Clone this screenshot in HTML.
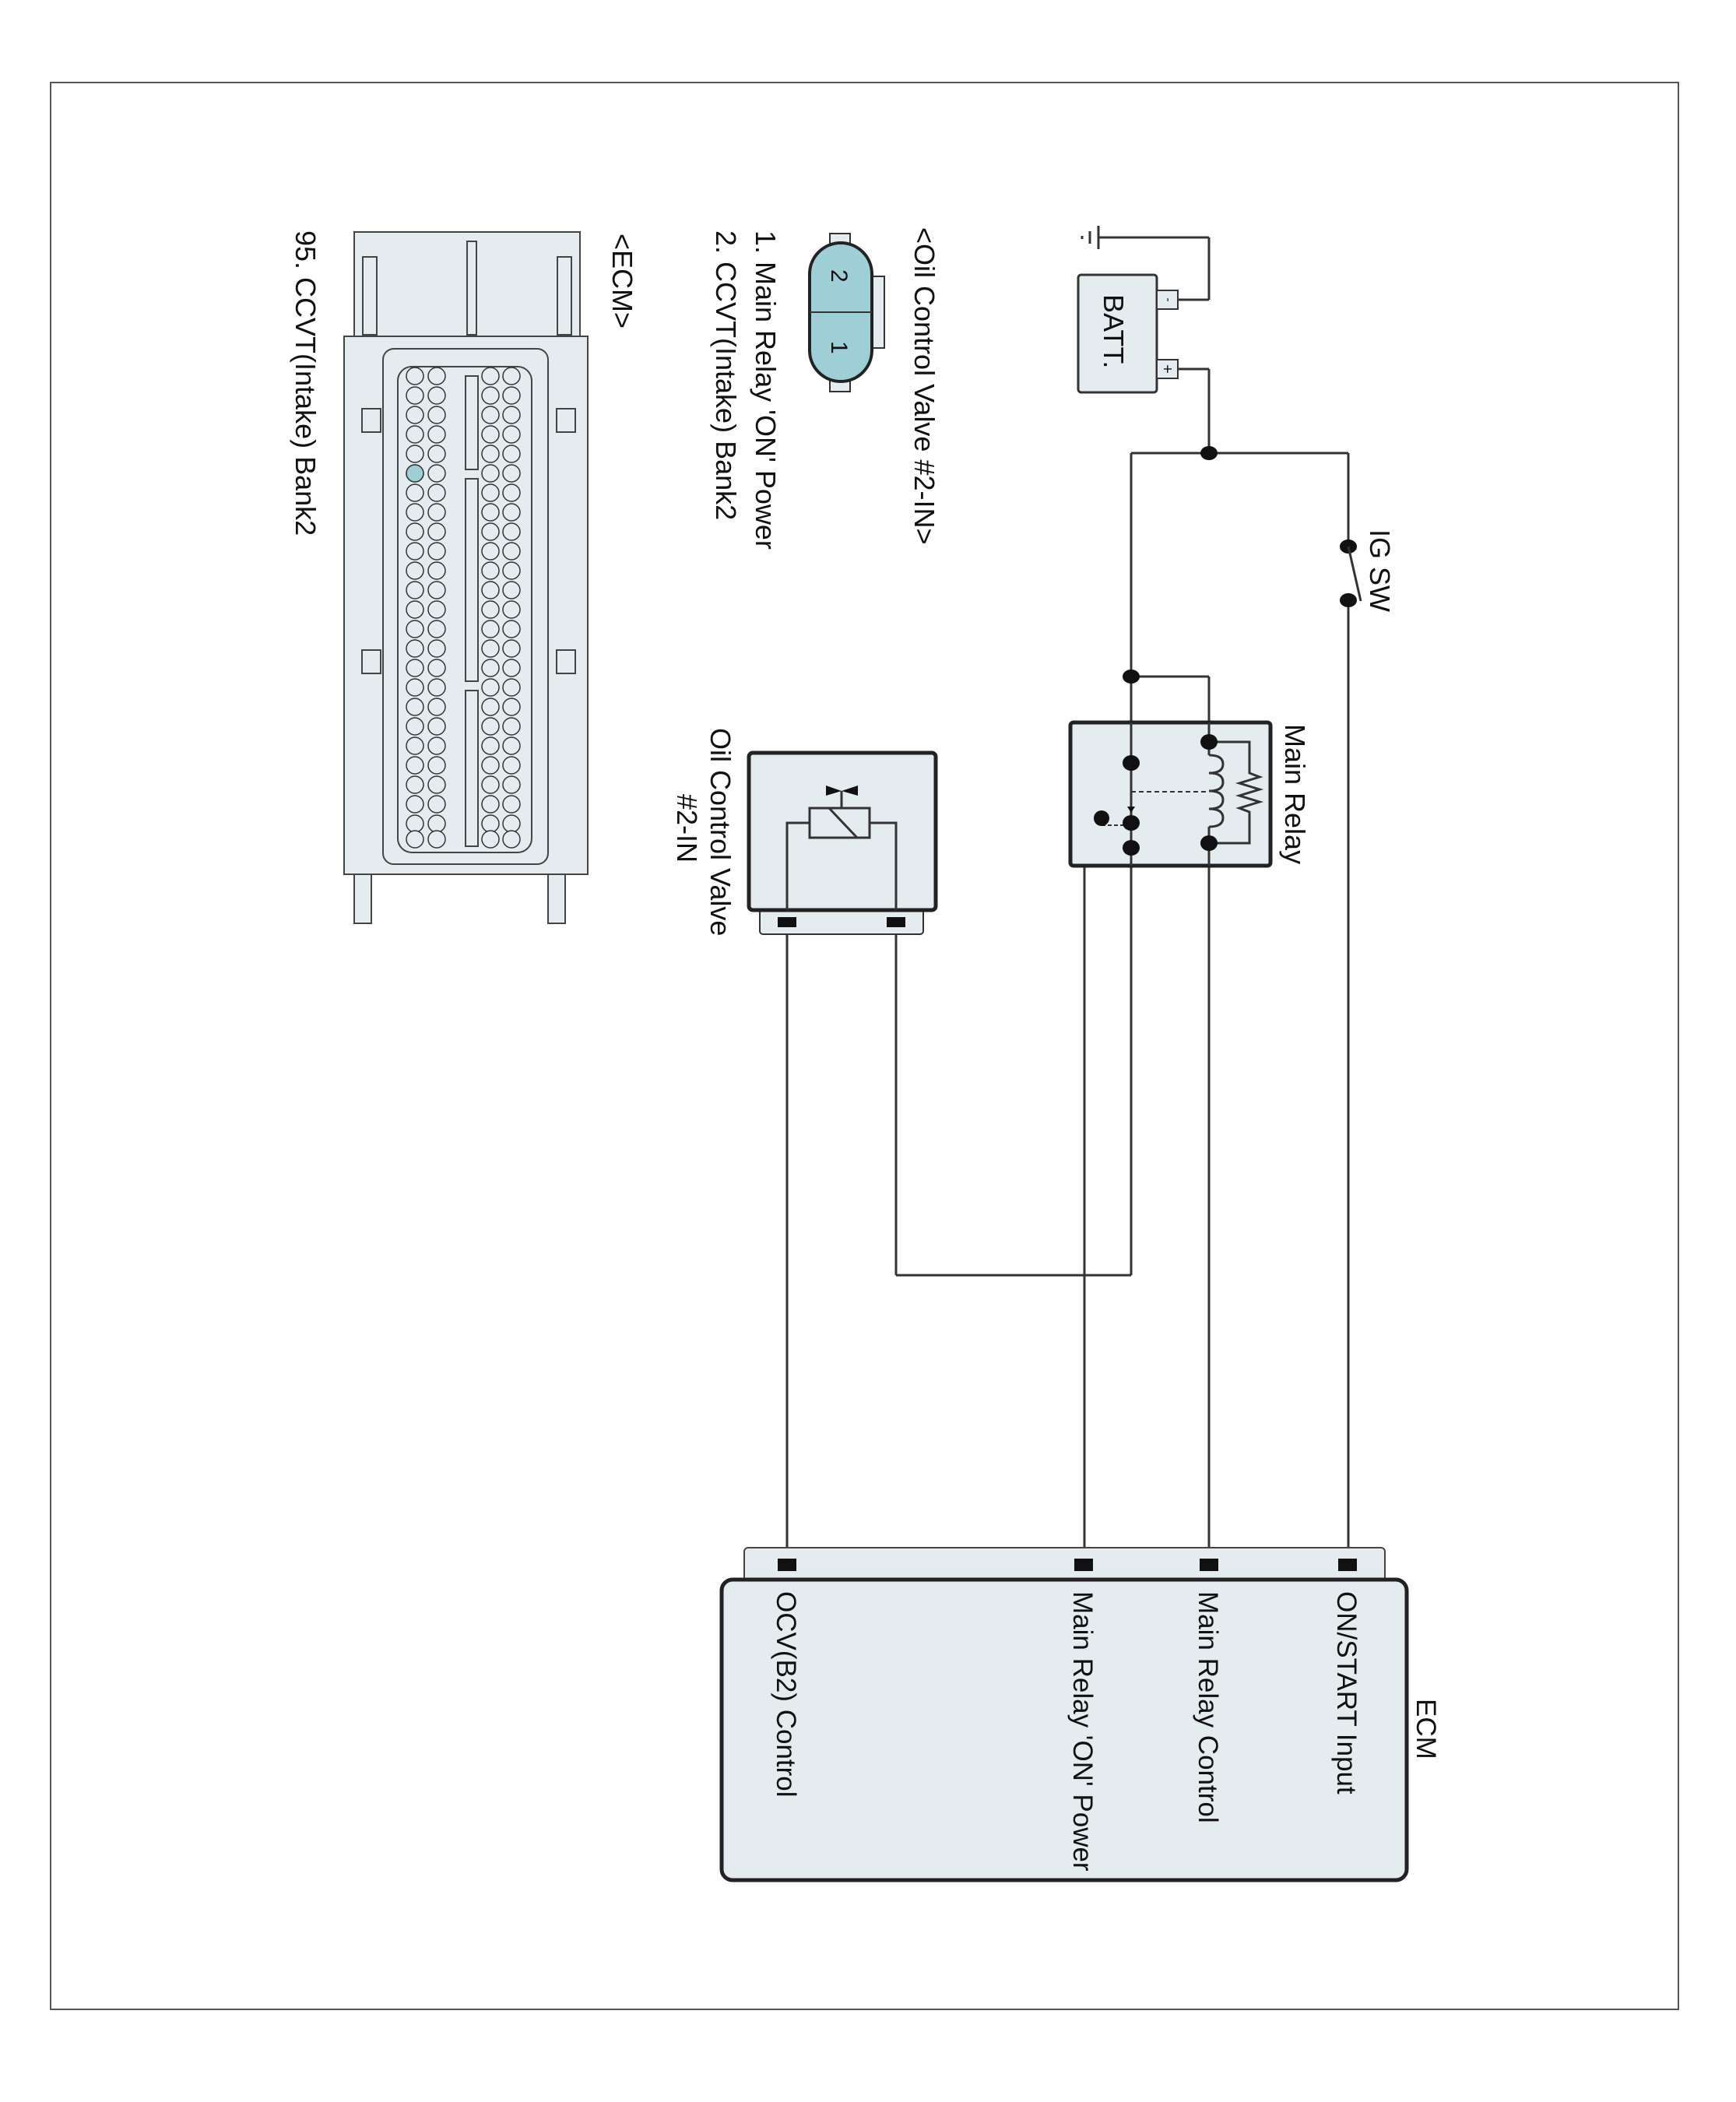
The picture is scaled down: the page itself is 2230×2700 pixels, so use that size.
<!DOCTYPE html>
<html><head><meta charset="utf-8"><style>
html,body{margin:0;padding:0;background:#fff}
svg{display:block}
text{font-family:"Liberation Sans",Arial,sans-serif;fill:#111}
</style></head><body>
<svg width="2230" height="2700" viewBox="0 0 2230 2700" xmlns="http://www.w3.org/2000/svg">
<defs>
<circle id="p" r="11" fill="#e4ecef" stroke="#333" stroke-width="1.5"/>
</defs>
<rect x="65" y="106" width="2091" height="2475" fill="#fff" stroke="#555" stroke-width="2"/>

<g stroke="#333" stroke-width="3" fill="none">
<line x1="1411" y1="305" x2="1553" y2="305"/>
<line x1="1553" y1="305" x2="1553" y2="385"/>
<line x1="1513" y1="385" x2="1553" y2="385"/>
<line x1="1513" y1="474" x2="1553" y2="474"/>
<line x1="1553" y1="474" x2="1553" y2="582"/>
<line x1="1453" y1="582" x2="1732" y2="582"/>
<line x1="1732" y1="582" x2="1732" y2="702"/>
<line x1="1732" y1="771" x2="1732" y2="1995"/>
<line x1="1453" y1="582" x2="1453" y2="1638"/>
<line x1="1453" y1="869" x2="1553" y2="869"/>
<line x1="1553" y1="869" x2="1553" y2="1995"/>
<line x1="1453" y1="1089" x2="1393" y2="1089"/>
<line x1="1393" y1="1089" x2="1393" y2="1995"/>
<line x1="1453" y1="1638" x2="1151" y2="1638"/>
<line x1="1151" y1="1638" x2="1151" y2="1190"/>
<line x1="1011" y1="1190" x2="1011" y2="1995"/>
</g>
<g stroke="#333" stroke-width="3">
<line x1="1411" y1="290" x2="1411" y2="320"/>
<line x1="1400" y1="297" x2="1400" y2="313"/>
<line x1="1390" y1="303" x2="1390" y2="307"/>
</g>
<rect x="1385" y="353" width="101" height="151" rx="4" fill="#e4ecef" stroke="#333" stroke-width="3"/>
<rect x="1486" y="373" width="27" height="24" fill="#e4ecef" stroke="#333" stroke-width="2"/>
<rect x="1486" y="462" width="27" height="24" fill="#e4ecef" stroke="#333" stroke-width="2"/>
<text x="1500" y="389" font-size="16" transform="rotate(90 1500 385)" text-anchor="middle">-</text>
<text x="1499" y="480" font-size="20" transform="rotate(90 1499 474)" text-anchor="middle">+</text>
<text transform="translate(1418,378) rotate(90)" font-size="36">BATT.</text>
<g fill="#111">
<ellipse cx="1553" cy="582" rx="11" ry="9"/>
<ellipse cx="1453" cy="869" rx="11" ry="9"/>
<ellipse cx="1732" cy="702" rx="11" ry="9"/>
<ellipse cx="1732" cy="771" rx="11" ry="9"/>
</g>
<line x1="1732" y1="702" x2="1748" y2="772" stroke="#333" stroke-width="3"/>
<text transform="translate(1760,680) rotate(90)" font-size="36">IG SW</text>

<rect x="1375" y="928" width="257" height="184" rx="4" fill="#e4ecef" stroke="#222" stroke-width="5"/>
<g stroke="#333" stroke-width="3" fill="none">
<line x1="1453" y1="928" x2="1453" y2="1112"/>
<line x1="1553" y1="928" x2="1553" y2="970"/>
<path d="M1553 970 q18 0 18 11.5 q0 11.5 -18 11.5 q18 0 18 11.5 q0 11.5 -18 11.5 q18 0 18 11.5 q0 11.5 -18 11.5 q18 0 18 11.5 q0 11.5 -18 11.5"/>
<line x1="1553" y1="1062" x2="1553" y2="1112"/>
<polyline points="1553,953 1605,953 1605,993 1618,998 1592,1006 1618,1014 1592,1022 1618,1030 1592,1038 1605,1043 1605,1083 1553,1083"/>
<line x1="1453" y1="1017" x2="1553" y2="1017" stroke-dasharray="6,4" stroke-width="2"/>
<line x1="1415" y1="1060" x2="1453" y2="1060" stroke-dasharray="5,3" stroke-width="2"/>
</g>
<g fill="#111">
<ellipse cx="1553" cy="953" rx="11" ry="10"/>
<ellipse cx="1553" cy="1083" rx="11" ry="10"/>
<ellipse cx="1453" cy="980" rx="11" ry="10"/>
<ellipse cx="1453" cy="1057" rx="11" ry="10"/>
<ellipse cx="1453" cy="1089" rx="11" ry="10"/>
<ellipse cx="1415" cy="1051" rx="10" ry="10"/>
<polygon points="1448,1036 1458,1036 1453,1044"/>
</g>
<text transform="translate(1651,930) rotate(90)" font-size="36">Main Relay</text>

<rect x="976" y="1160" width="210" height="40" rx="4" fill="#e4ecef" stroke="#333" stroke-width="2"/>
<rect x="962" y="967" width="240" height="202" rx="5" fill="#e4ecef" stroke="#222" stroke-width="5"/>
<rect x="999" y="1178" width="24" height="13" fill="#111"/>
<rect x="1139" y="1178" width="24" height="13" fill="#111"/>
<g stroke="#333" stroke-width="3" fill="none">
<polyline points="1011,1169 1011,1057 1040,1057"/>
<polyline points="1151,1169 1151,1057 1117,1057"/>
<rect x="1040" y="1038" width="77" height="38" fill="#e4ecef"/>
<line x1="1065" y1="1038" x2="1101" y2="1076"/>
<line x1="1081" y1="1038" x2="1081" y2="1016"/>
</g>
<polygon points="1061,1009 1081,1016 1102,1009 1102,1022 1081,1016 1061,1022" fill="#111"/>
<text transform="translate(913,935) rotate(90)" font-size="36">Oil Control Valve</text>
<text transform="translate(870,1020) rotate(90)" font-size="36">#2-IN</text>

<rect x="1066" y="300" width="26" height="203" fill="#e4ecef" stroke="#333" stroke-width="2"/>
<rect x="1112" y="355" width="24" height="92" fill="#e4ecef" stroke="#333" stroke-width="2"/>
<rect x="1040" y="312" width="80" height="178" rx="40" fill="#9fcfd6" stroke="#222" stroke-width="4"/>
<line x1="1040" y1="401" x2="1120" y2="401" stroke="#333" stroke-width="2"/>
<text transform="translate(1068,346) rotate(90)" font-size="30">2</text>
<text transform="translate(1068,438) rotate(90)" font-size="30">1</text>
<text transform="translate(1175,292) rotate(90)" font-size="36">&lt;Oil Control Valve #2-IN&gt;</text>
<text transform="translate(971,296) rotate(90)" font-size="36">1. Main Relay 'ON' Power</text>
<text transform="translate(920,296) rotate(90)" font-size="36">2. CCVT(Intake) Bank2</text>
<text transform="translate(787,300) rotate(90)" font-size="36">&lt;ECM&gt;</text>
<text transform="translate(380,296) rotate(90)" font-size="36">95. CCVT(Intake) Bank2</text>

<g stroke="#444" stroke-width="2" fill="#e4ecef">
<rect x="455" y="298" width="290" height="134"/>
<rect x="442" y="432" width="313" height="691"/>
<rect x="492" y="448" width="212" height="662" rx="14"/>
<rect x="511" y="471" width="172" height="624" rx="18"/>
<rect x="455" y="1123" width="22" height="63"/>
<rect x="704" y="1123" width="22" height="63"/>
<rect x="466" y="330" width="18" height="100"/>
<rect x="716" y="330" width="18" height="100"/>
<rect x="600" y="310" width="12" height="120"/>
<rect x="598" y="483" width="16" height="120"/>
<rect x="598" y="615" width="16" height="260"/>
<rect x="598" y="887" width="16" height="200"/>
<rect x="465" y="525" width="24" height="30"/>
<rect x="715" y="525" width="24" height="30"/>
<rect x="465" y="835" width="24" height="30"/>
<rect x="715" y="835" width="24" height="30"/>
</g>
<g>
<use href="#p" x="657" y="483"/><use href="#p" x="657" y="508"/><use href="#p" x="657" y="533"/><use href="#p" x="657" y="558"/><use href="#p" x="657" y="583"/><use href="#p" x="657" y="608"/><use href="#p" x="657" y="633"/><use href="#p" x="657" y="658"/><use href="#p" x="657" y="683"/><use href="#p" x="657" y="708"/><use href="#p" x="657" y="733"/><use href="#p" x="657" y="758"/><use href="#p" x="657" y="783"/><use href="#p" x="657" y="808"/><use href="#p" x="657" y="833"/><use href="#p" x="657" y="858"/><use href="#p" x="657" y="883"/><use href="#p" x="657" y="908"/><use href="#p" x="657" y="933"/><use href="#p" x="657" y="958"/><use href="#p" x="657" y="983"/><use href="#p" x="657" y="1008"/><use href="#p" x="657" y="1033"/><use href="#p" x="657" y="1058"/><use href="#p" x="657" y="1078"/>
<use href="#p" x="630" y="483"/><use href="#p" x="630" y="508"/><use href="#p" x="630" y="533"/><use href="#p" x="630" y="558"/><use href="#p" x="630" y="583"/><use href="#p" x="630" y="608"/><use href="#p" x="630" y="633"/><use href="#p" x="630" y="658"/><use href="#p" x="630" y="683"/><use href="#p" x="630" y="708"/><use href="#p" x="630" y="733"/><use href="#p" x="630" y="758"/><use href="#p" x="630" y="783"/><use href="#p" x="630" y="808"/><use href="#p" x="630" y="833"/><use href="#p" x="630" y="858"/><use href="#p" x="630" y="883"/><use href="#p" x="630" y="908"/><use href="#p" x="630" y="933"/><use href="#p" x="630" y="958"/><use href="#p" x="630" y="983"/><use href="#p" x="630" y="1008"/><use href="#p" x="630" y="1033"/><use href="#p" x="630" y="1058"/><use href="#p" x="630" y="1078"/>
<use href="#p" x="561" y="483"/><use href="#p" x="561" y="508"/><use href="#p" x="561" y="533"/><use href="#p" x="561" y="558"/><use href="#p" x="561" y="583"/><use href="#p" x="561" y="608"/><use href="#p" x="561" y="633"/><use href="#p" x="561" y="658"/><use href="#p" x="561" y="683"/><use href="#p" x="561" y="708"/><use href="#p" x="561" y="733"/><use href="#p" x="561" y="758"/><use href="#p" x="561" y="783"/><use href="#p" x="561" y="808"/><use href="#p" x="561" y="833"/><use href="#p" x="561" y="858"/><use href="#p" x="561" y="883"/><use href="#p" x="561" y="908"/><use href="#p" x="561" y="933"/><use href="#p" x="561" y="958"/><use href="#p" x="561" y="983"/><use href="#p" x="561" y="1008"/><use href="#p" x="561" y="1033"/><use href="#p" x="561" y="1058"/><use href="#p" x="561" y="1078"/>
<use href="#p" x="533" y="483"/><use href="#p" x="533" y="508"/><use href="#p" x="533" y="533"/><use href="#p" x="533" y="558"/><use href="#p" x="533" y="583"/><use href="#p" x="533" y="608"/><use href="#p" x="533" y="633"/><use href="#p" x="533" y="658"/><use href="#p" x="533" y="683"/><use href="#p" x="533" y="708"/><use href="#p" x="533" y="733"/><use href="#p" x="533" y="758"/><use href="#p" x="533" y="783"/><use href="#p" x="533" y="808"/><use href="#p" x="533" y="833"/><use href="#p" x="533" y="858"/><use href="#p" x="533" y="883"/><use href="#p" x="533" y="908"/><use href="#p" x="533" y="933"/><use href="#p" x="533" y="958"/><use href="#p" x="533" y="983"/><use href="#p" x="533" y="1008"/><use href="#p" x="533" y="1033"/><use href="#p" x="533" y="1058"/><use href="#p" x="533" y="1078"/>
</g>
<circle cx="533" cy="608" r="11" fill="#9fcfd6" stroke="#333" stroke-width="1.5"/>

<rect x="956" y="1988" width="823" height="50" rx="5" fill="#e4ecef" stroke="#444" stroke-width="2"/>
<rect x="927" y="2029" width="880" height="386" rx="14" fill="#e4ecef" stroke="#222" stroke-width="5"/>
<rect x="999" y="2002" width="24" height="16" fill="#111"/>
<rect x="1380" y="2002" width="24" height="16" fill="#111"/>
<rect x="1541" y="2002" width="24" height="16" fill="#111"/>
<rect x="1719" y="2002" width="24" height="16" fill="#111"/>
<text transform="translate(998,2044) rotate(90)" font-size="35">OCV(B2) Control</text>
<text transform="translate(1379,2044) rotate(90)" font-size="35">Main Relay 'ON' Power</text>
<text transform="translate(1540,2044) rotate(90)" font-size="35">Main Relay Control</text>
<text transform="translate(1718,2044) rotate(90)" font-size="35">ON/START Input</text>
<text transform="translate(1820,2182) rotate(90)" font-size="35">ECM</text>
</svg>
</body></html>
